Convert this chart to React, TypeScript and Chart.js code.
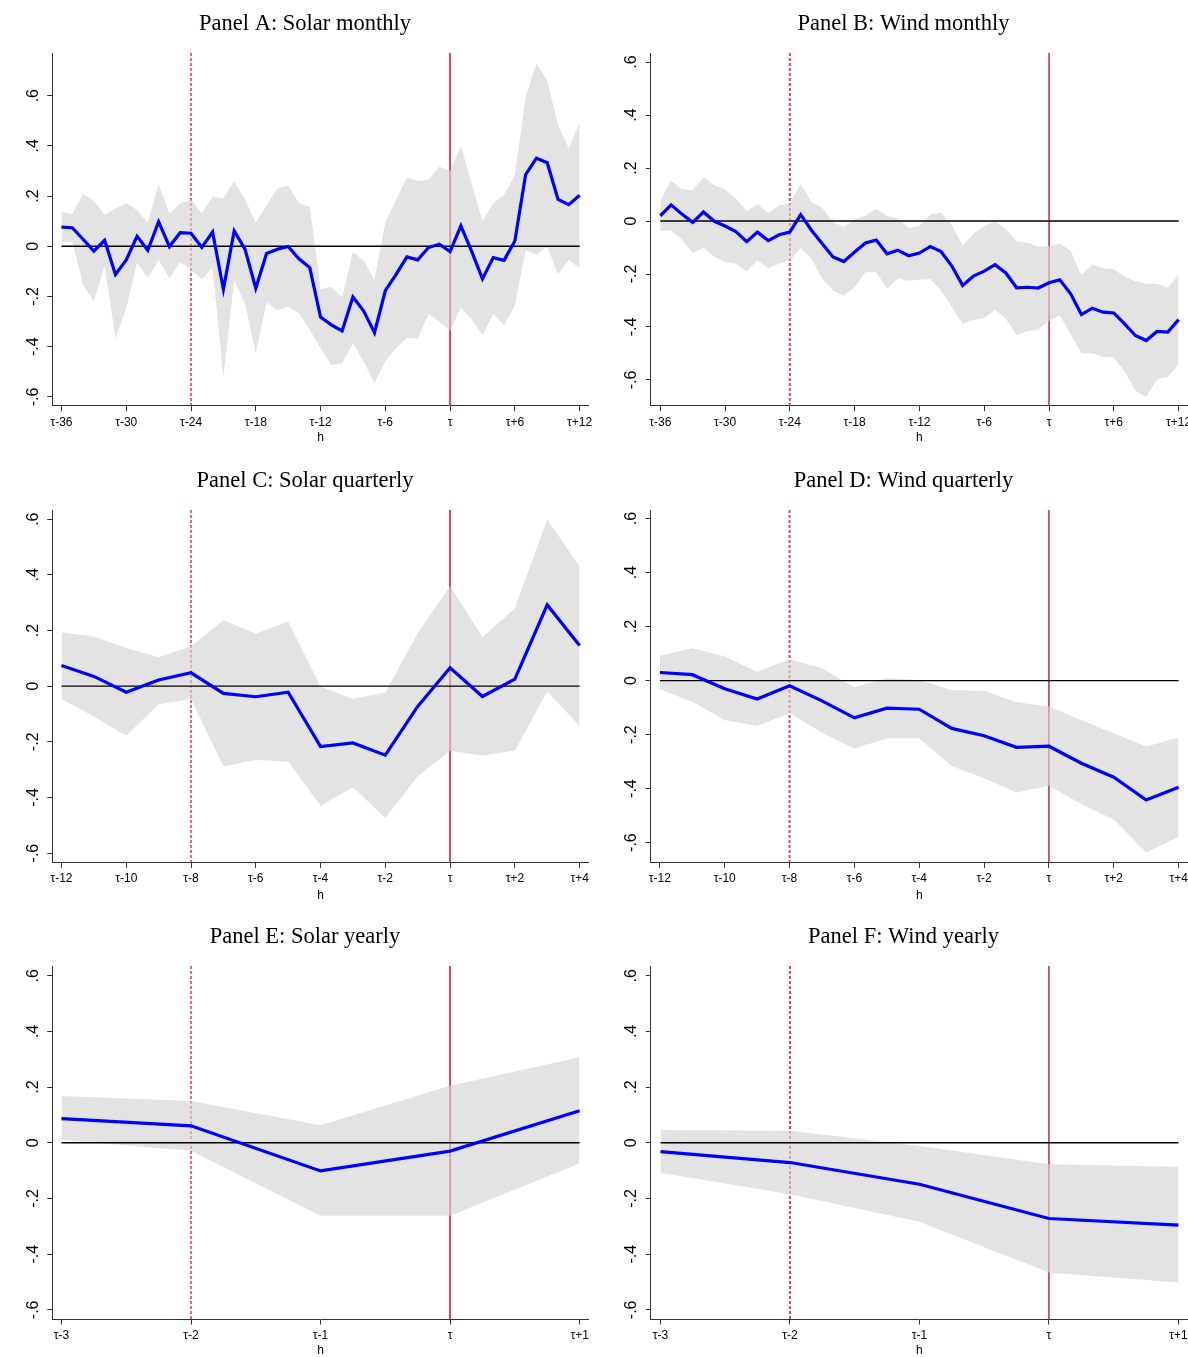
import React, { useEffect, useRef } from "react";
import { Chart, registerables } from "chart.js";

Chart.register(...registerables);
Chart.defaults.font.family = "'Liberation Sans', Arial, sans-serif";
Chart.defaults.color = "#000";

// ---------------- horizons ----------------
const monthlyH = [
  -36, -35, -34, -33, -32, -31, -30, -29, -28, -27, -26, -25, -24, -23, -22, -21, -20, -19, -18, -17, -16, -15, -14, -13,
  -12, -11, -10, -9, -8, -7, -6, -5, -4, -3, -2, -1, 0, 1, 2, 3, 4, 5, 6, 7, 8, 9, 10, 11, 12,
];
const quarterlyH = [-12, -11, -10, -9, -8, -7, -6, -5, -4, -3, -2, -1, 0, 1, 2, 3, 4];
const yearlyH = [-3, -2, -1, 0, 1];

// ---------------- tick labels ----------------
const monthlyTicks = [-36, -30, -24, -18, -12, -6, 0, 6, 12];
const monthlyTickLabels = ["τ-36", "τ-30", "τ-24", "τ-18", "τ-12", "τ-6", "τ", "τ+6", "τ+12"];
const quarterlyTicks = [-12, -10, -8, -6, -4, -2, 0, 2, 4];
const quarterlyTickLabels = ["τ-12", "τ-10", "τ-8", "τ-6", "τ-4", "τ-2", "τ", "τ+2", "τ+4"];
const yearlyTicks = [-3, -2, -1, 0, 1];
const yearlyTickLabels = ["τ-3", "τ-2", "τ-1", "τ", "τ+1"];
const yTicks = [-0.6, -0.4, -0.2, 0, 0.2, 0.4, 0.6];
const yTickLabels = ["-.6", "-.4", "-.2", "0", ".2", ".4", ".6"];

// reference lines (announcement: dashed, event: solid)
const monthlyAnnounce = -24;
const quarterlyAnnounce = -8;
const yearlyAnnounce = -2;
const eventTau = 0;

// ---------------- Panel A: Solar monthly ----------------
const solarMonthlyEst = [
  0.076, 0.074, 0.028, -0.019, 0.024, -0.112, -0.054, 0.04, -0.016, 0.098, -0.001, 0.054, 0.052, -0.004, 0.057, -0.171,
  0.061, -0.011, -0.167, -0.029, -0.012, -0.001, -0.05, -0.085, -0.282, -0.313, -0.337, -0.202, -0.258, -0.344, -0.177,
  -0.112, -0.042, -0.054, -0.005, 0.008, -0.021, 0.081, -0.02, -0.13, -0.045, -0.056, 0.021, 0.286, 0.351, 0.333, 0.187,
  0.166, 0.203,
];
const solarMonthlyUpper = [
  0.137, 0.129, 0.208, 0.182, 0.126, 0.15, 0.171, 0.145, 0.094, 0.248, 0.131, 0.171, 0.185, 0.131, 0.198, 0.191, 0.259,
  0.187, 0.094, 0.163, 0.231, 0.242, 0.171, 0.158, -0.171, -0.161, -0.203, -0.023, -0.057, -0.134, 0.096, 0.185, 0.275,
  0.26, 0.264, 0.317, 0.301, 0.4, 0.251, 0.101, 0.171, 0.205, 0.284, 0.596, 0.729, 0.659, 0.483, 0.39, 0.493,
];
const solarMonthlyLower = [
  0.016, 0.019, -0.154, -0.22, -0.078, -0.367, -0.247, -0.065, -0.127, -0.054, -0.127, -0.064, -0.094, -0.131, -0.085,
  -0.522, -0.137, -0.227, -0.426, -0.224, -0.254, -0.24, -0.267, -0.333, -0.406, -0.473, -0.466, -0.386, -0.46, -0.546,
  -0.457, -0.406, -0.364, -0.367, -0.27, -0.3, -0.337, -0.244, -0.291, -0.355, -0.27, -0.315, -0.236, -0.017, -0.032,
  -0.001, -0.112, -0.054, -0.088,
];

// ---------------- Panel B: Wind monthly ----------------
const windMonthlyEst = [
  0.019, 0.061, 0.026, -0.005, 0.034, -0.001, -0.019, -0.04, -0.078, -0.042, -0.074, -0.052, -0.042, 0.024, -0.035,
  -0.086, -0.136, -0.153, -0.117, -0.083, -0.072, -0.124, -0.11, -0.131, -0.121, -0.096, -0.115, -0.17, -0.243, -0.208,
  -0.189, -0.165, -0.196, -0.252, -0.25, -0.253, -0.233, -0.222, -0.275, -0.353, -0.329, -0.344, -0.347, -0.388, -0.432,
  -0.451, -0.417, -0.419, -0.372,
];
const windMonthlyUpper = [
  0.078, 0.151, 0.121, 0.116, 0.166, 0.135, 0.12, 0.084, 0.038, 0.063, 0.03, 0.059, 0.066, 0.141, 0.072, 0.049, -0.004,
  -0.023, 0.006, 0.021, 0.047, 0.019, 0.009, -0.026, -0.019, 0.025, 0.032, -0.016, -0.092, -0.048, -0.02, -0.001,
  -0.029, -0.077, -0.082, -0.096, -0.095, -0.086, -0.111, -0.206, -0.164, -0.178, -0.182, -0.209, -0.227, -0.237,
  -0.237, -0.252, -0.203,
];
const windMonthlyLower = [
  -0.039, -0.035, -0.071, -0.12, -0.101, -0.134, -0.155, -0.161, -0.19, -0.149, -0.178, -0.161, -0.149, -0.101, -0.142,
  -0.218, -0.262, -0.281, -0.25, -0.193, -0.193, -0.256, -0.218, -0.225, -0.222, -0.219, -0.262, -0.325, -0.388, -0.373,
  -0.366, -0.335, -0.369, -0.43, -0.416, -0.409, -0.376, -0.357, -0.426, -0.499, -0.499, -0.512, -0.515, -0.568, -0.641,
  -0.663, -0.597, -0.588, -0.542,
];

// ---------------- Panel C: Solar quarterly ----------------
const solarQuarterlyEst = [
  0.074, 0.035, -0.022, 0.022, 0.048, -0.026, -0.038, -0.022, -0.217, -0.204, -0.248, -0.073, 0.066, -0.037, 0.025, 0.292,
  0.146,
];
const solarQuarterlyUpper = [
  0.193, 0.178, 0.137, 0.104, 0.143, 0.238, 0.188, 0.232, -0.001, -0.046, -0.023, 0.19, 0.36, 0.176, 0.28, 0.6, 0.43,
];
const solarQuarterlyLower = [
  -0.046, -0.109, -0.178, -0.065, -0.046, -0.289, -0.265, -0.271, -0.43, -0.363, -0.474, -0.325, -0.232, -0.249, -0.231,
  -0.019, -0.143,
];

// ---------------- Panel D: Wind quarterly ----------------
const windQuarterlyEst = [
  0.03, 0.022, -0.03, -0.068, -0.019, -0.075, -0.138, -0.102, -0.106, -0.177, -0.204, -0.247, -0.243, -0.306, -0.358,
  -0.442, -0.395,
];
const windQuarterlyUpper = [
  0.093, 0.12, 0.089, 0.033, 0.079, 0.046, -0.025, 0.009, 0.002, -0.035, -0.038, -0.08, -0.096, -0.146, -0.195, -0.244,
  -0.211,
];
const windQuarterlyLower = [
  -0.032, -0.078, -0.146, -0.168, -0.121, -0.193, -0.251, -0.214, -0.214, -0.316, -0.362, -0.414, -0.389, -0.457, -0.514,
  -0.637, -0.578,
];

// ---------------- Panel E / F: yearly ----------------
const solarYearlyEst = [0.087, 0.061, -0.101, -0.03, 0.115];
const solarYearlyUpper = [0.168, 0.15, 0.063, 0.205, 0.307];
const solarYearlyLower = [0.01, -0.029, -0.262, -0.262, -0.074];
const windYearlyEst = [-0.032, -0.071, -0.149, -0.272, -0.296];
const windYearlyUpper = [0.046, 0.043, -0.012, -0.077, -0.086];
const windYearlyLower = [-0.108, -0.185, -0.284, -0.466, -0.502];

// ---------------- styles ----------------
const BAND = "rgba(212,212,212,0.65)";
const BLUE = "#0000ff";
const AXIS = "#333333";

type PanelSpec = {
  title: string;
  h: number[];
  est: number[];
  upper: number[];
  lower: number[];
  xTicks: number[];
  xLabels: string[];
  xMin: number;
  xMax: number;
  yMin: number;
  yMax: number;
  announce: number;
  left: number;
  top: number;
  w: number;
  hgt: number;
  areaLeft: number;
  areaRight: number;
  areaTop: number;
  areaBottom: number;
  titleX: number;
  titleY: number;
  hLabelY: number;
  right: boolean;
};

const LEFT_W = 610;
const RIGHT_W = 587;

const panels: PanelSpec[] = [
  {
    title: "Panel A: Solar monthly", h: monthlyH, est: solarMonthlyEst, upper: solarMonthlyUpper, lower: solarMonthlyLower,
    xTicks: monthlyTicks, xLabels: monthlyTickLabels, xMin: -36.85, xMax: 12.85, yMin: -0.635, yMax: 0.77,
    announce: monthlyAnnounce, left: 0, top: 0, w: LEFT_W, hgt: 460,
    areaLeft: 52.3, areaRight: 588.8, areaTop: 53, areaBottom: 405.7, titleX: 305, titleY: 24, hLabelY: 437.7, right: false,
  },
  {
    title: "Panel B: Wind monthly", h: monthlyH, est: windMonthlyEst, upper: windMonthlyUpper, lower: windMonthlyLower,
    xTicks: monthlyTicks, xLabels: monthlyTickLabels, xMin: -36.87, xMax: 12.87, yMin: -0.697, yMax: 0.634,
    announce: monthlyAnnounce, left: LEFT_W, top: 0, w: RIGHT_W, hgt: 460,
    areaLeft: 40.9, areaRight: 578, areaTop: 53, areaBottom: 405.7, titleX: 293.5, titleY: 24, hLabelY: 437.7, right: true,
  },
  {
    title: "Panel C: Solar quarterly", h: quarterlyH, est: solarQuarterlyEst, upper: solarQuarterlyUpper,
    lower: solarQuarterlyLower, xTicks: quarterlyTicks, xLabels: quarterlyTickLabels, xMin: -12.284, xMax: 4.284,
    yMin: -0.633, yMax: 0.633, announce: quarterlyAnnounce, left: 0, top: 460, w: LEFT_W, hgt: 455,
    areaLeft: 52.3, areaRight: 588.8, areaTop: 50, areaBottom: 402.3, titleX: 305, titleY: 21, hLabelY: 435.7, right: false,
  },
  {
    title: "Panel D: Wind quarterly", h: quarterlyH, est: windQuarterlyEst, upper: windQuarterlyUpper,
    lower: windQuarterlyLower, xTicks: quarterlyTicks, xLabels: quarterlyTickLabels, xMin: -12.29, xMax: 4.29,
    yMin: -0.673, yMax: 0.632, announce: quarterlyAnnounce, left: LEFT_W, top: 460, w: RIGHT_W, hgt: 455,
    areaLeft: 40.5, areaRight: 578, areaTop: 50, areaBottom: 402.3, titleX: 293.5, titleY: 21, hLabelY: 435.7, right: true,
  },
  {
    title: "Panel E: Solar yearly", h: yearlyH, est: solarYearlyEst, upper: solarYearlyUpper, lower: solarYearlyLower,
    xTicks: yearlyTicks, xLabels: yearlyTickLabels, xMin: -3.071, xMax: 1.071, yMin: -0.633, yMax: 0.635,
    announce: yearlyAnnounce, left: 0, top: 915, w: LEFT_W, hgt: 442,
    areaLeft: 52.3, areaRight: 588.8, areaTop: 51, areaBottom: 404, titleX: 305, titleY: 22, hLabelY: 435.7, right: false,
  },
  {
    title: "Panel F: Wind yearly", h: yearlyH, est: windYearlyEst, upper: windYearlyUpper, lower: windYearlyLower,
    xTicks: yearlyTicks, xLabels: yearlyTickLabels, xMin: -3.074, xMax: 1.074, yMin: -0.633, yMax: 0.635,
    announce: yearlyAnnounce, left: LEFT_W, top: 915, w: RIGHT_W, hgt: 442,
    areaLeft: 40.9, areaRight: 578, areaTop: 51, areaBottom: 404, titleX: 293.5, titleY: 22, hLabelY: 435.7, right: true,
  },
];

const toXY = (xs: number[], ys: number[]) => xs.map((x, i) => ({ x, y: ys[i] }));

const labelFor = (ticks: number[], labels: string[], v: number) => {
  const i = ticks.findIndex((t) => Math.abs(t - v) < 1e-9);
  return i >= 0 ? labels[i] : "";
};

const refLinesPlugin = {
  id: "refLines",
  beforeDatasetsDraw(chart: any, _args: any, opts: any) {
    const { ctx, chartArea, scales } = chart;
    const xs = scales.x;
    ctx.save();
    // dashed announcement line
    const xa = xs.getPixelForValue(opts.announce);
    ctx.beginPath();
    ctx.setLineDash([3, 2]);
    ctx.lineWidth = opts.dashWidth;
    ctx.strokeStyle = opts.dashColor;
    ctx.moveTo(xa, chartArea.top);
    ctx.lineTo(xa, chartArea.bottom);
    ctx.stroke();
    // solid event line
    const xt = xs.getPixelForValue(opts.event);
    ctx.beginPath();
    ctx.setLineDash([]);
    ctx.lineWidth = opts.solidWidth;
    ctx.strokeStyle = opts.solidColor;
    ctx.moveTo(xt, chartArea.top);
    ctx.lineTo(xt, chartArea.bottom);
    ctx.stroke();
    ctx.restore();
  },
};

function Panel({ spec }: { spec: PanelSpec }) {
  const ref = useRef<HTMLCanvasElement | null>(null);
  useEffect(() => {
    const canvas = ref.current;
    if (!canvas) return;
    const titleFont = 22.5;
    const titleLH = titleFont * 1.2;
    const tPadTop = spec.titleY - titleLH / 2;
    const tPadBottom = spec.areaTop - tPadTop - titleLH;
    const hFont = 12;
    const hPadBottom = spec.hgt - spec.hLabelY - (hFont * 1.2) / 2;
    const yLabelCenterOffset = 19;
    const yTickLen = 5;
    // left layout padding chosen so the (full-width) title is centred where the reference has it
    const padLeft = 2 * spec.titleX - spec.areaRight;
    const cfg: any = {
      type: "line",
      data: {
        datasets: [
          {
            label: "upper",
            data: toXY(spec.h, spec.upper),
            borderWidth: 0,
            borderColor: "rgba(0,0,0,0)",
            backgroundColor: BAND,
            fill: "+1",
            pointRadius: 0,
            tension: 0,
            order: 3,
          },
          {
            label: "lower",
            data: toXY(spec.h, spec.lower),
            borderWidth: 0,
            borderColor: "rgba(0,0,0,0)",
            backgroundColor: BAND,
            fill: false,
            pointRadius: 0,
            tension: 0,
            order: 4,
          },
          {
            label: "zero",
            data: [
              { x: spec.h[0], y: 0 },
              { x: spec.h[spec.h.length - 1], y: 0 },
            ],
            borderWidth: 1.4,
            borderColor: "#000",
            fill: false,
            pointRadius: 0,
            order: 2,
          },
          {
            label: "estimate",
            data: toXY(spec.h, spec.est),
            borderWidth: 3.2,
            borderColor: BLUE,
            fill: false,
            pointRadius: 0,
            tension: 0,
            order: 1,
          },
        ],
      },
      options: {
        animation: false,
        responsive: false,
        maintainAspectRatio: false,
        events: [],
        layout: { padding: { left: padLeft, right: spec.w - spec.areaRight, top: 0, bottom: 0 } },
        plugins: {
          legend: { display: false },
          tooltip: { enabled: false },
          title: {
            display: true,
            text: spec.title,
            color: "#000",
            font: { family: "'Liberation Serif', 'DejaVu Serif', serif", size: titleFont, weight: "normal", lineHeight: 1.2 },
            padding: { top: tPadTop, bottom: tPadBottom },
          },
          refLines: {
            announce: spec.announce,
            event: eventTau,
            dashWidth: spec.right ? 2 : 1.2,
            dashColor: spec.right ? "#e0486a" : "#d8002c",
            solidWidth: spec.right ? 1.3 : 2,
            solidColor: spec.right ? "#c8002c" : "#d64466",
          },
        },
        scales: {
          x: {
            type: "linear",
            position: "bottom",
            min: spec.xMin,
            max: spec.xMax,
            afterBuildTicks: (s: any) => {
              s.ticks = spec.xTicks.map((v) => ({ value: v }));
            },
            afterFit: (s: any) => {
              s.height = spec.hgt - spec.areaBottom;
              s.paddingLeft = 0;
              s.paddingRight = 0;
            },
            ticks: {
              callback: (v: number) => labelFor(spec.xTicks, spec.xLabels, v),
              font: { size: 12 },
              color: "#000",
              padding: 3.8,
              minRotation: 0,
              maxRotation: 0,
              autoSkip: false,
            },
            grid: { display: true, drawOnChartArea: false, drawTicks: true, tickLength: 5.5, color: AXIS, lineWidth: 1 },
            border: { display: true, color: AXIS, width: 1 },
            title: {
              display: true,
              text: "h",
              color: "#000",
              font: { size: hFont, lineHeight: 1.2 },
              padding: { top: 0, bottom: hPadBottom },
            },
          },
          y: {
            type: "linear",
            position: "left",
            min: spec.yMin,
            max: spec.yMax,
            afterBuildTicks: (s: any) => {
              s.ticks = yTicks.map((v) => ({ value: v }));
            },
            afterFit: (s: any) => {
              s.width = spec.areaLeft - padLeft;
              s.paddingTop = 0;
              s.paddingBottom = 0;
            },
            ticks: {
              callback: (v: number) => labelFor(yTicks, yTickLabels, v),
              font: { size: 16 },
              color: "#000",
              minRotation: 90,
              maxRotation: 90,
              crossAlign: "center",
              padding: yLabelCenterOffset - yTickLen - 9.3,
              autoSkip: false,
            },
            grid: { display: true, drawOnChartArea: false, drawTicks: true, tickLength: yTickLen, color: AXIS, lineWidth: 1 },
            border: { display: true, color: AXIS, width: 1 },
          },
        },
      },
      plugins: [refLinesPlugin],
    };
    const chart = new Chart(canvas, cfg);
    return () => chart.destroy();
  }, [spec]);
  return (
    <canvas
      ref={ref}
      width={spec.w}
      height={spec.hgt}
      style={{ position: "absolute", left: spec.left, top: spec.top, width: spec.w, height: spec.hgt }}
    />
  );
}

export default function App() {
  return (
    <div
      style={{
        position: "absolute",
        left: 0,
        top: 0,
        width: 1188,
        height: 1357,
        overflow: "hidden",
        background: "#ffffff",
      }}
    >
      {panels.map((p) => (
        <Panel key={p.title} spec={p} />
      ))}
    </div>
  );
}
